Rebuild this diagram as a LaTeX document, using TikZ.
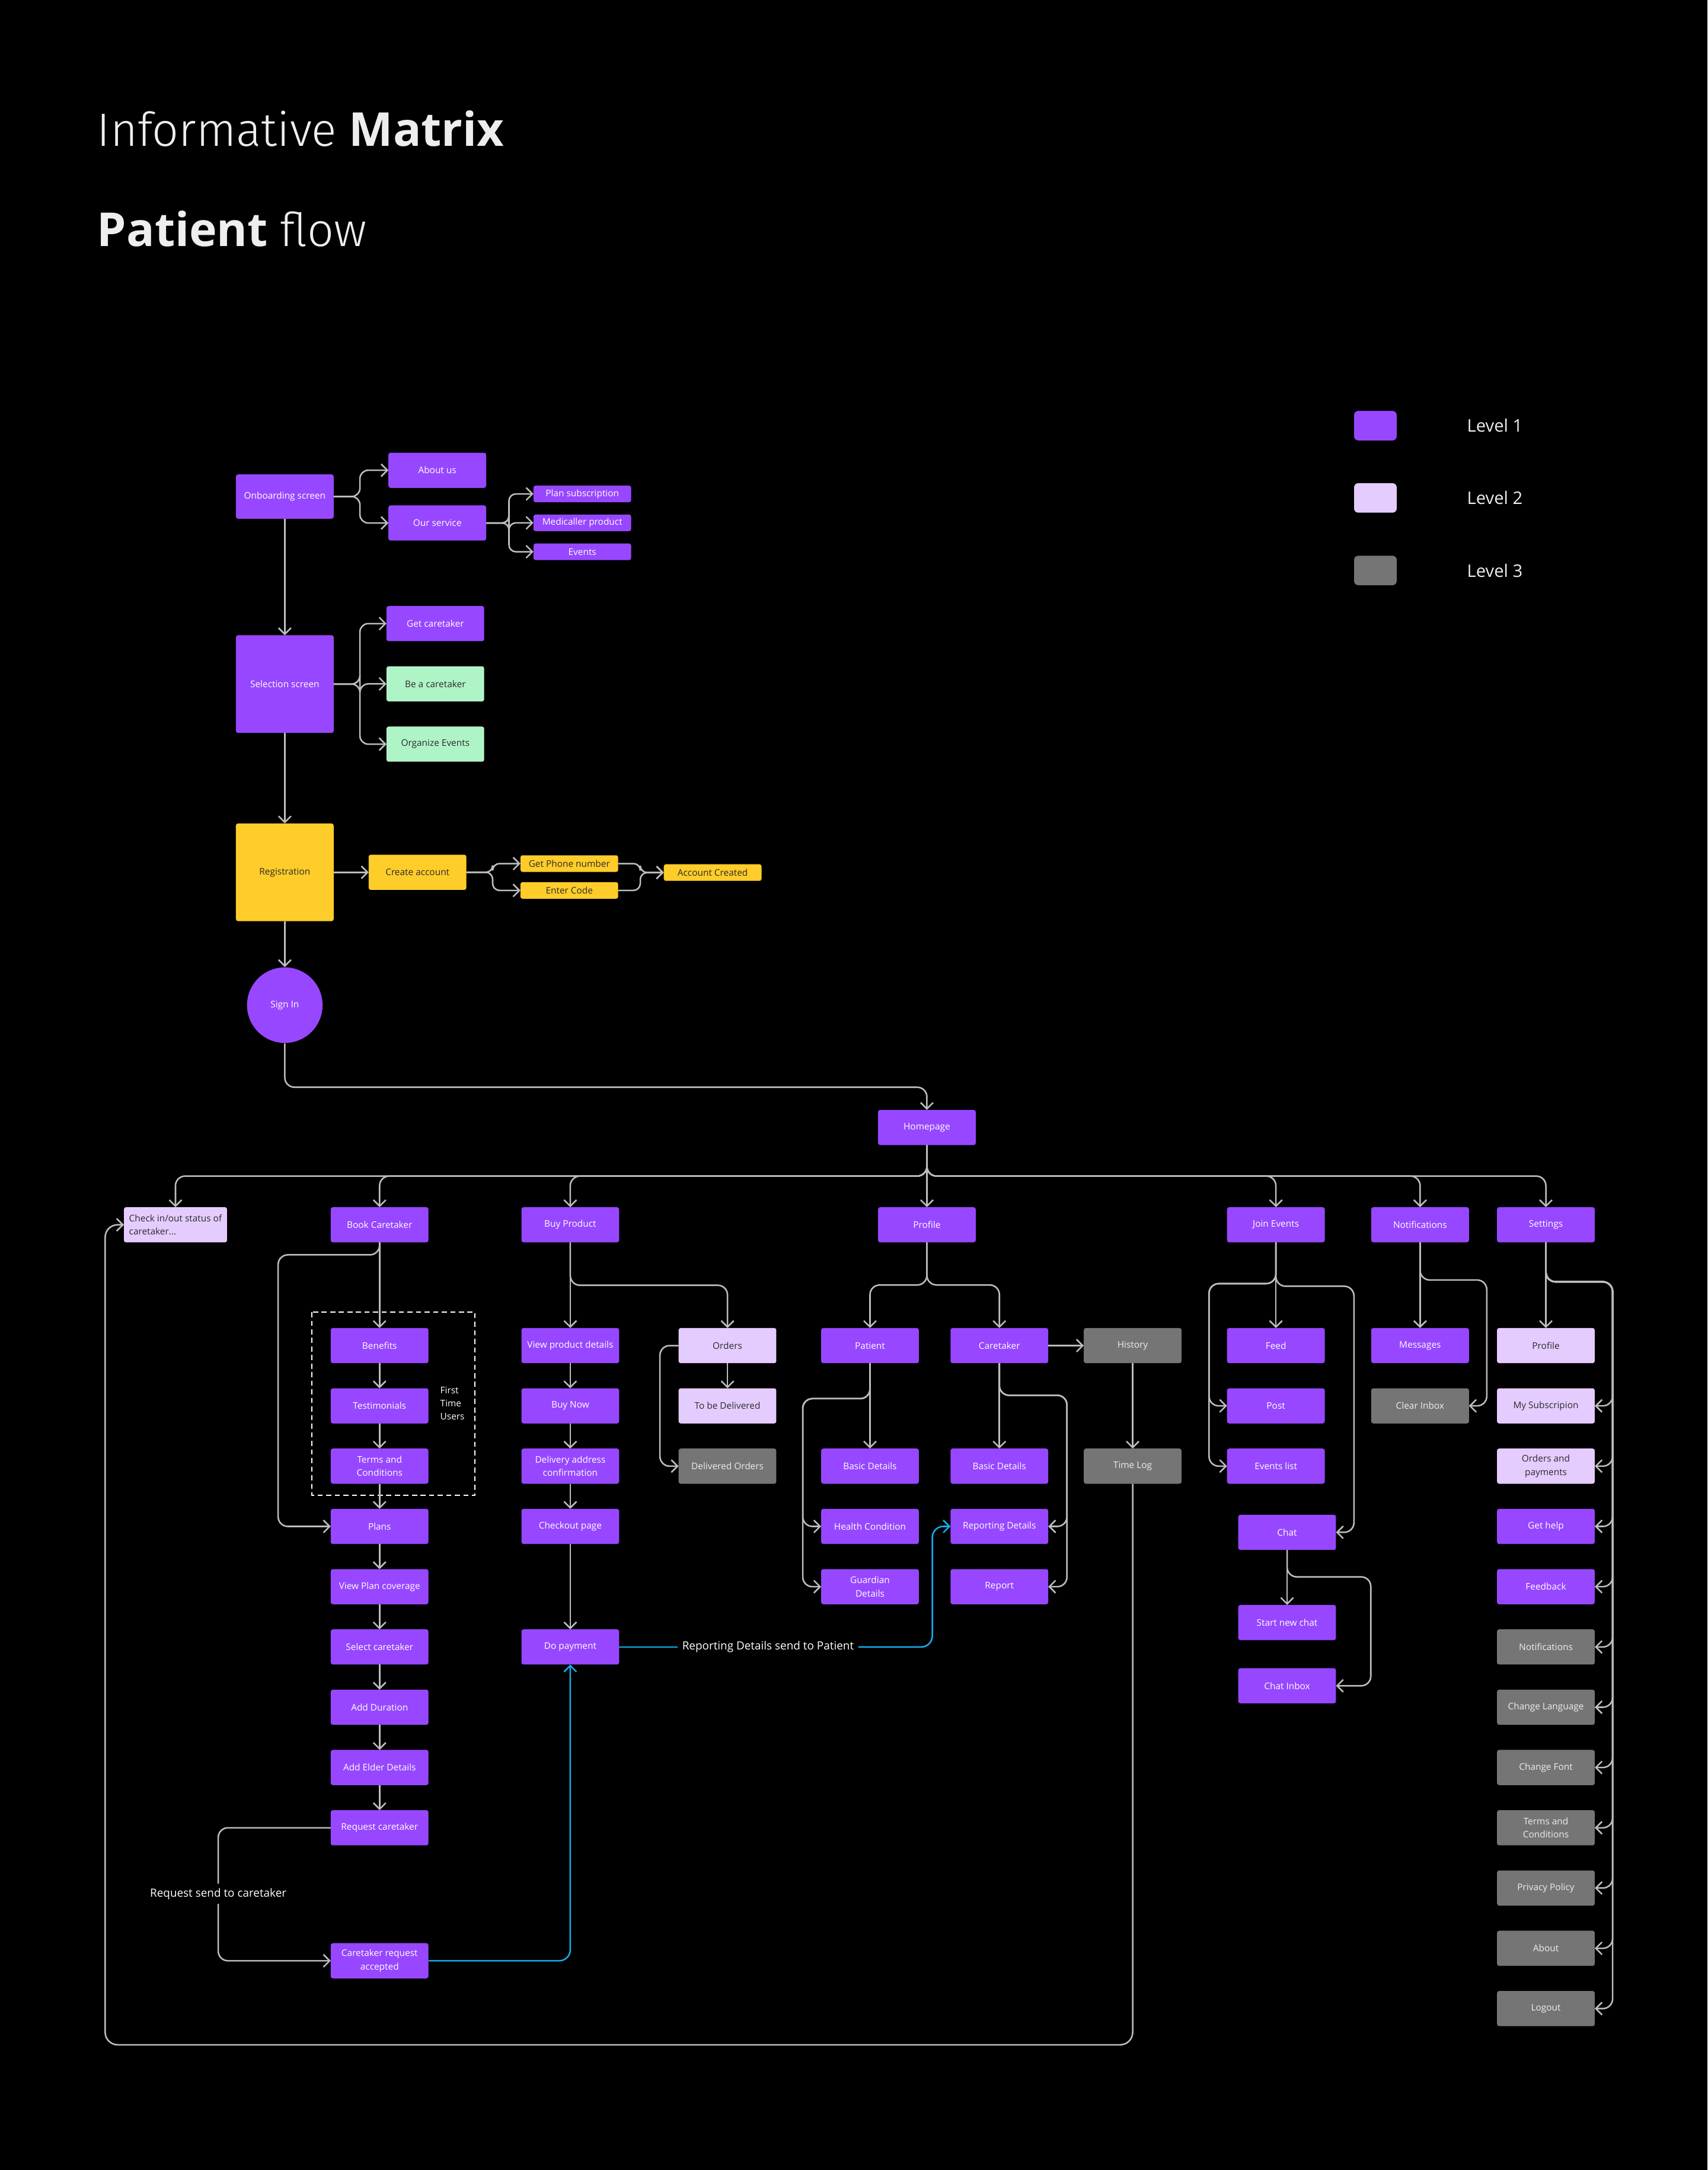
\documentclass[tikz,border=0pt]{standalone}
\usepackage{fontspec}
\setmainfont{Open Sans}
\newfontfamily\lightfont{Fira Sans Light}
\usetikzlibrary{arrows.meta, positioning}
\definecolor{purp}{HTML}{9747FF}
\definecolor{lilac}{HTML}{E5CCFF}
\definecolor{stone}{HTML}{757575}
\definecolor{sun}{HTML}{FFCD29}
\definecolor{mint}{HTML}{AFF4C6}
\definecolor{sky}{HTML}{14AEEB}
\definecolor{wire}{HTML}{BDBDBD}
\definecolor{ink}{HTML}{2B2B2B}
\definecolor{paper}{HTML}{EEEEEE}
\tikzset{box/.style={rectangle,rounded corners=1.5pt,align=center,inner sep=2pt,outer sep=0pt,minimum width=70.6pt,minimum height=25.4pt,fill=purp,text=white,font=\fontsize{6.6}{9.6}\selectfont},leveltwo/.style={box,fill=lilac,text=ink},levelthree/.style={box,fill=stone,text=paper},yellowbox/.style={box,fill=sun,text=ink},mintbox/.style={box,fill=mint,text=ink},slim/.style={minimum height=12pt},square/.style={minimum height=70.6pt},line/.style={draw=wire,line width=1.1pt,rounded corners=7pt,-{Straight Barb[length=4.5pt,width=9pt]}},link/.style={line,draw=sky},note/.style={text=white,inner sep=3pt,font=\fontsize{8.1}{10}\selectfont}}

\begin{document}
\begin{tikzpicture}[x=1pt, y=-1pt, node distance=18.15pt]
\fill[black] (0,0) rectangle (1234,1568);
\useasboundingbox (0,0) rectangle (1234,1568);

% titles and legend
\node[anchor=base west, inner sep=0, text=paper, font=\fontsize{33.8}{38}\selectfont] (title) at (70,105.7) {{\lightfont Informative} \textbf{Matrix}};
\node[anchor=base west, inner sep=0, text=paper, font=\fontsize{33.8}{38}\selectfont] (subtitle) at (70,177.8) {\textbf{Patient} {\lightfont flow}};
\node[box, minimum width=30.8pt, minimum height=21.3pt, rounded corners=3pt] (key1) at (993.9,307.6) {};
\node[leveltwo, minimum width=30.8pt, minimum height=21.3pt, rounded corners=3pt] (key2) at (993.9,359.8) {};
\node[levelthree, minimum width=30.8pt, minimum height=21.3pt, rounded corners=3pt] (key3) at (993.9,412.2) {};
\foreach \k/\v in {1/Level 1, 2/Level 2, 3/Level 3}
  \node[right=50.7pt of key\k, inner sep=0, text=paper, font=\fontsize{12.5}{14}\selectfont] (keytext\k) {\v};

% onboarding, selection, registration
\node[box, minimum height=32pt] (onb) at (205.8,358.8) {Onboarding screen};
\node[box] (about) at (316,339.8) {About us};
\node[box] (serv) at (316,377.9) {Our service};
\node[box, slim] (plansub) at (420.8,356.9) {Plan subscription};
\node[box, slim, below=8.9pt of plansub] (medprod) {Medicaller product};
\node[box, slim, below=8.9pt of medprod] (events) {Events};
\node[box, square] (sel) at (205.8,494.3) {Selection screen};
\node[box] (getct) at (314.6,450.6) {Get caretaker};
\node[mintbox, below=of getct] (beact) {Be a caretaker};
\node[mintbox, below=of beact] (orgev) {Organize Events};
\node[yellowbox, square] (reg) at (205.8,630.3) {Registration};
\node[yellowbox, right=25.3pt of reg] (create) {Create account};
\node[yellowbox, slim] (phone) at (411.4,624) {Get Phone number};
\node[yellowbox, slim] (code) at (411.4,643.4) {Enter Code};
\node[yellowbox, slim] (done) at (515,630.5) {Account Created};
\node[circle, fill=purp, text=white, inner sep=0, minimum size=54.6pt, font=\fontsize{6.6}{8}\selectfont] (signin) at (205.8,726.3) {Sign In};

\draw[line, rounded corners=6pt] (onb.east) -- ++(19,0) |- (about.west);
\draw[line, rounded corners=6pt] (onb.east) -- ++(19,0) |- (serv.west);
\foreach \tgt in {plansub,medprod,events}
  \draw[line, rounded corners=5pt] (serv.east) -- ++(16.5,0) |- (\tgt.west);
\draw[line] (onb.south) -- (sel.north);
\foreach \tgt in {getct,beact,orgev}
  \draw[line, rounded corners=6pt] (sel.east) -- ++(19,0) |- (\tgt.west);
\draw[line] (sel.south) -- (reg.north);
\draw[line] (reg.east) -- (create.west);
\foreach \tgt in {phone,code}
  \draw[line, rounded corners=5pt] (create.east) -- ++(19,0) |- (\tgt.west);
\foreach \tgt in {phone,code}
  \draw[line, rounded corners=5pt] (\tgt.east) -- ++(16,0) |- (done.west);
\draw[line] (reg.south) -- (signin.north);

% homepage and first level
\node[box] (home) at (669.8,814.7) {Homepage};
\node[leveltwo, minimum width=74.5pt, align=left] (chk) at (126.8,885) {Check in/out status of\\caretaker...};
\node[box] (bc) at (274.3,885) {Book Caretaker};
\node[box] (bp) at (412.1,885) {Buy Product};
\node[box] (prof) at (669.8,885) {Profile};
\node[box] (je) at (922,885) {Join Events};
\node[box] (notif) at (1026.2,885) {Notifications};
\node[box] (sett) at (1117.1,885) {Settings};

\draw[line] (signin.south) -- ++(0,31.8) -| (home.north);
\foreach \tgt in {chk,bc,bp,je,notif,sett}
  \draw[line] (home.south) -- ++(0,22.4) -| (\tgt.north);
\draw[line] (home.south) -- (prof.north);

% book caretaker
\node[box, below=61.9pt of bc] (ben) {Benefits};
\node[box, below=of ben] (testi) {Testimonials};
\node[box, below=of testi] (terms) {Terms and\\Conditions};
\node[box, below=of terms] (plans) {Plans};
\node[box, below=of plans] (cover) {View Plan coverage};
\node[box, below=of cover] (pick) {Select caretaker};
\node[box, below=of pick] (dur) {Add Duration};
\node[box, below=of dur] (elder) {Add Elder Details};
\node[box, below=of elder] (request) {Request caretaker};
\node[box, below=70.7pt of request] (accepted) {Caretaker request\\accepted};
\node[anchor=west, align=left, inner sep=0, text=white, font=\fontsize{6.6}{9.6}\selectfont] (ftu) at (318,1014) {First\\Time\\Users};
\draw[white, line width=0.9pt, dash pattern=on 3.7pt off 2.5pt] ([xshift=-13.5pt,yshift=11.5pt]ben.north west) rectangle ([xshift=33.7pt,yshift=-8.4pt]terms.south east);
\node[note] (sent) at (157.7,1368.4) {Request send to caretaker};

\foreach \a/\b in {bc/ben,ben/testi,testi/terms,terms/plans,plans/cover,cover/pick,pick/dur,dur/elder,elder/request}
  \draw[line] (\a.south) -- (\b.north);
\draw[line] (bc.south) -- ++(0,9) -| ([xshift=-38pt]plans.west) -- (plans.west);
\draw[line, -] (request.west) -| (sent.north);
\draw[line] (sent.south) |- (accepted.west);

% buy product
\node[box, below=61.9pt of bp] (details) {View product details};
\node[box, below=of details] (buynow) {Buy Now};
\node[box, below=of buynow] (address) {Delivery address\\confirmation};
\node[box, below=of address] (checkout) {Checkout page};
\node[box, below=61.7pt of checkout] (payment) {Do payment};
\node[leveltwo, right=43pt of details] (orders) {Orders};
\node[leveltwo, below=of orders] (pending) {To be Delivered};
\node[levelthree, below=of pending] (delivered) {Delivered Orders};

\foreach \a/\b in {bp/details,details/buynow,buynow/address,address/checkout,checkout/payment,orders/pending}
  \draw[line] (\a.south) -- (\b.north);
\draw[line] (bp.south) -- ++(0,31) -| (orders.north);
\draw[line] (orders.west) -- ++(-13.5,0) |- (delivered.west);

% profile
\node[box, right=32.4pt of orders] (patient) {Patient};
\node[box, right=22.9pt of patient] (carer) {Caretaker};
\node[levelthree, right=25.7pt of carer] (history) {History};
\node[box, below=61.7pt of patient] (pbasic) {Basic Details};
\node[box, below=of pbasic] (health) {Health Condition};
\node[box, below=of health] (guardian) {Guardian\\Details};
\node[box, below=61.7pt of carer] (cbasic) {Basic Details};
\node[box, below=of cbasic] (reporting) {Reporting Details};
\node[box, below=of reporting] (report) {Report};
\node[levelthree, below=61.7pt of history] (timelog) {Time Log};
\node[note, right=42.4pt of payment] (sendrep) {Reporting Details send to Patient};
\coordinate (loop) at (76,1477.5);

\foreach \tgt in {patient,carer}
  \draw[line] (prof.south) -- ++(0,30.8) -| (\tgt.north);
\draw[line] (patient.south) -- (pbasic.north);
\foreach \tgt in {health,guardian}
  \draw[line] (patient.south) -- ++(0,25.6) -| ([xshift=-13.3pt]\tgt.west) -- (\tgt.west);
\draw[line] (carer.south) -- (cbasic.north);
\foreach \tgt in {reporting,report}
  \draw[line] (carer.south) -- ++(0,23.2) -| ([xshift=13.5pt]\tgt.east) -- (\tgt.east);
\draw[line] (carer.east) -- (history.west);
\draw[line] (history.south) -- (timelog.north);
\draw[line, rounded corners=9pt] (timelog.south) |- (loop) |- (chk.west);
\draw[link, -] (payment.east) -- (sendrep.west);
\draw[link, rounded corners=8pt] (sendrep.east) -| ([xshift=-13.2pt]reporting.west) -- (reporting.west);
\draw[link, rounded corners=8pt] (accepted.east) -| (payment.south);

% join events
\node[box, below=61.9pt of je] (feed) {Feed};
\node[box, below=of feed] (post) {Post};
\node[box, below=of post] (evlist) {Events list};
\node[box] (chat) at (930.1,1107.2) {Chat};
\node[box, below=39.8pt of chat] (newchat) {Start new chat};
\node[box, below=20.3pt of newchat] (inbox) {Chat Inbox};

\draw[line] (je.south) -- (feed.north);
\foreach \tgt in {post,evlist}
  \draw[line] (je.south) -- ++(0,29.8) -| ([xshift=-13pt]\tgt.west) -- (\tgt.west);
\draw[line] (je.south) -- ++(0,31.7) -| ([xshift=13pt]chat.east) -- (chat.east);
\draw[line] (chat.south) -- (newchat.north);
\draw[line] (chat.south) -- ++(0,19.5) -| ([xshift=25.2pt]inbox.east) -- (inbox.east);

% notifications
\node[box, below=61.9pt of notif] (msgs) {Messages};
\node[levelthree, below=of msgs] (clear) {Clear Inbox};
\draw[line] (notif.south) -- (msgs.north);
\draw[line] (notif.south) -- ++(0,27.2) -| ([xshift=12.9pt]clear.east) -- (clear.east);

% settings
\node[leveltwo, below=61.9pt of sett] (sprofile) {Profile};
\node[leveltwo, below=of sprofile] (subscr) {My Subscripion};
\node[leveltwo, below=of subscr] (payments) {Orders and\\payments};
\node[box, below=of payments] (help) {Get help};
\node[box, below=of help] (feedback) {Feedback};
\node[levelthree, below=of feedback] (alerts) {Notifications};
\node[levelthree, below=of alerts] (language) {Change Language};
\node[levelthree, below=of language] (fontchg) {Change Font};
\node[levelthree, below=of fontchg] (legal) {Terms and\\Conditions};
\node[levelthree, below=of legal] (privacy) {Privacy Policy};
\node[levelthree, below=of privacy] (aboutapp) {About};
\node[levelthree, below=of aboutapp] (logout) {Logout};

\draw[line] (sett.south) -- (sprofile.north);
\foreach \tgt in {subscr,payments,help,feedback,alerts,language,fontchg,legal,privacy,aboutapp,logout}
  \draw[line] (sett.south) -- ++(0,28.5) -| ([xshift=12.9pt]\tgt.east) -- (\tgt.east);
\end{tikzpicture}
\end{document}
